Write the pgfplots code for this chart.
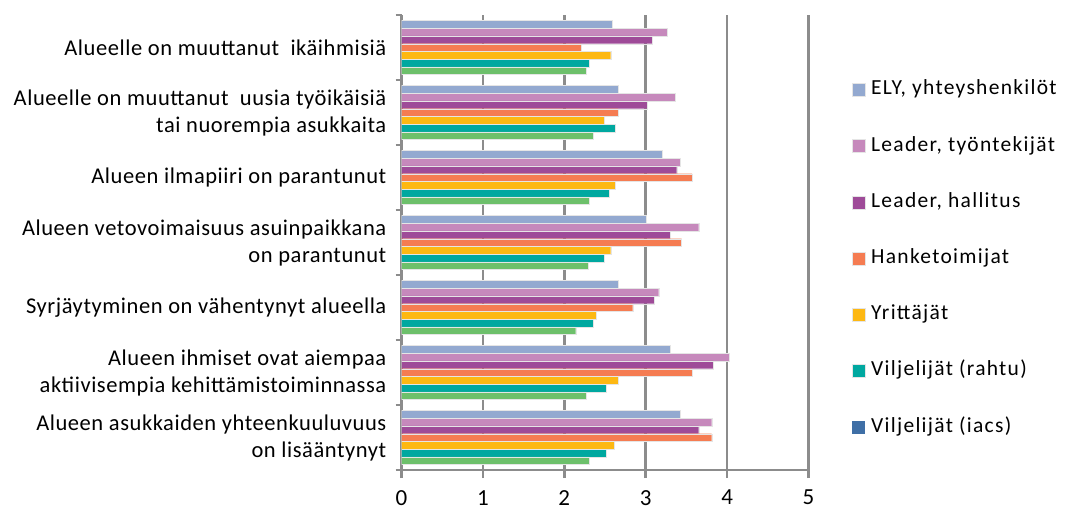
\documentclass[border=0pt]{standalone}
\usepackage{fontspec}
\setmainfont{Carlito}
\newfontfamily\catfont[LetterSpace=2.5]{Carlito}
\newfontfamily\legfont[LetterSpace=6]{Carlito}
\usepackage{pgfplots}
\pgfplotsset{compat=1.18}
\definecolor{cEly}{HTML}{93A9D0}
\definecolor{cLtyo}{HTML}{C689BC}
\definecolor{cLhal}{HTML}{9E4B98}
\definecolor{cHanke}{HTML}{F57C52}
\definecolor{cYrit}{HTML}{FDB813}
\definecolor{cRahtu}{HTML}{00A8A0}
\definecolor{cGreen}{HTML}{6DC06B}
\definecolor{cIacs}{HTML}{3F6FA6}
\definecolor{cGrid}{HTML}{8C8C8C}
\begin{document}
\begin{tikzpicture}[x=1pt,y=1pt]
\useasboundingbox (0,0) rectangle (1065,509);
\begin{axis}[
  at={(401.5pt,39pt)}, anchor=south west,
  scale only axis, width=407pt, height=455pt,
  xbar, bar width=0.1185,
  xmin=0, xmax=5, ymin=-0.5, ymax=6.5,
  y dir=reverse,
  axis x line*=bottom, axis y line*=left,
  x axis line style={-}, y axis line style={-},
  axis line style={cGrid, line width=2.6pt},
  xtick={0,1,2,3,4,5},
  xmajorgrids, major grid style={cGrid, line width=2.6pt},
  tick align=outside,
  major tick length=8pt, minor tick length=6pt,
  tick style={cGrid, line width=2.6pt},
  every major y tick/.append style={draw=none},
  ytick={0,1,2,3,4,5,6},
  minor ytick={-0.5,0.5,1.5,2.5,3.5,4.5,5.5,6.5},
  yticklabels={
    {Alueelle on muuttanut~ ikäihmisiä},
    {Alueelle on muuttanut~ uusia työikäisiä\\tai nuorempia asukkaita},
    {Alueen ilmapiiri on parantunut},
    {Alueen vetovoimaisuus asuinpaikkana\\on parantunut},
    {Syrjäytyminen on vähentynyt alueella},
    {Alueen ihmiset ovat aiempaa\\aktiivisempia kehittämistoiminnassa},
    {Alueen asukkaiden yhteenkuuluvuus\\on lisääntynyt}},
  yticklabel style={align=right, font=\catfont\fontsize{22.5}{27}\selectfont, inner sep=0pt, xshift=-7pt},
  xticklabel style={font=\catfont\fontsize{23}{26}\selectfont, inner sep=0pt, yshift=-12pt},
  /pgf/number format/assume math mode=true,
  legend style={draw=none, fill=none, inner sep=0pt, row sep=36.2pt,
    at={(axis description cs:1.106,0.858)}, anchor=north west,
    font=\legfont\fontsize{21.5}{25}\selectfont,
    nodes={inner sep=0pt, text height=15pt, text depth=5pt}},
  legend cell align=left,
  legend image code/.code={\fill[#1] (0pt,-6.5pt) rectangle (13pt,6.5pt);},
  every axis plot/.append style={draw=white!80!gray, line width=0.2pt},
]
\addplot[fill=cEly, bar shift=-0.3555] coordinates {(2.59,0) (2.66,1) (3.20,2) (3.01,3) (2.66,4) (3.30,5) (3.42,6)};
\addlegendentry{\ ELY, yhteyshenkilöt}
\addplot[fill=cLtyo, bar shift=-0.237] coordinates {(3.26,0) (3.36,1) (3.42,2) (3.65,3) (3.16,4) (4.03,5) (3.81,6)};
\addlegendentry{\ Leader, työntekijät}
\addplot[fill=cLhal, bar shift=-0.1185] coordinates {(3.08,0) (3.02,1) (3.38,2) (3.30,3) (3.10,4) (3.83,5) (3.65,6)};
\addlegendentry{\ Leader, hallitus}
\addplot[fill=cHanke, bar shift=0] coordinates {(2.21,0) (2.66,1) (3.57,2) (3.44,3) (2.84,4) (3.57,5) (3.81,6)};
\addlegendentry{\ Hanketoimijat}
\addplot[fill=cYrit, bar shift=0.1185] coordinates {(2.57,0) (2.49,1) (2.63,2) (2.57,3) (2.39,4) (2.66,5) (2.61,6)};
\addlegendentry{\ Yrittäjät}
\addplot[fill=cRahtu, bar shift=0.237] coordinates {(2.31,0) (2.63,1) (2.55,2) (2.49,3) (2.35,4) (2.51,5) (2.51,6)};
\addlegendentry{\ Viljelijät (rahtu)}
\addplot[fill=cGreen, bar shift=0.3555, forget plot] coordinates {(2.27,0) (2.35,1) (2.31,2) (2.29,3) (2.14,4) (2.27,5) (2.31,6)};
\addlegendimage{fill=cIacs, draw=none}
\addlegendentry{\ Viljelijät (iacs)}
\end{axis}
\end{tikzpicture}
\end{document}
